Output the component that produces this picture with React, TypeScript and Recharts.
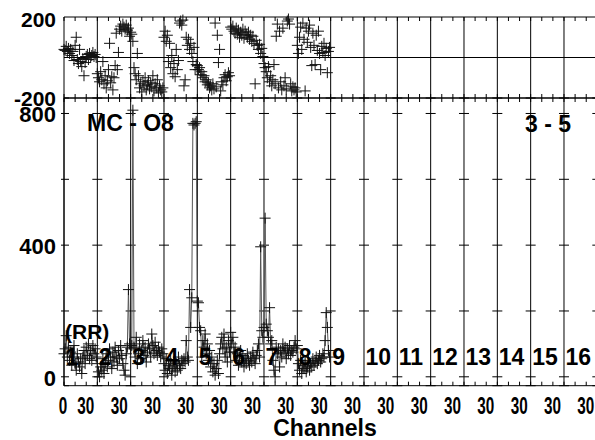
import { ComposedChart, Scatter, Line, XAxis, YAxis, ReferenceLine, CartesianGrid } from 'recharts'

// phase panel (top), one array per 30-channel segment
const topSeg1 = [40, 35, 55, 30, 45, 20, 40, 10, 30, -15, 60, 100, -10, -30, 40, -20, -45, -5, -90, -25, 5, 15, -10, 20, 0, 10, 25, 5, 15, 0]
const topSeg2 = [-80, -100, -120, -70, -110, -20, -130, -90, -150, -115, -60, 70, -125, -95, -160, -100, -40, 120, -60, 25, 140, 155, 130, 165, 150, 140, 160, 135, 145, 105]
const topSeg3 = [125, 115, 80, -50, -80, -110, 20, -90, -150, -130, -170, -120, -140, -100, -160, -135, -115, -155, -125, -145, -90, -165, -130, -150, -110, -175, -140, -160, -170, -150]
const topSeg4 = [100, 130, 80, 110, -20, 70, -50, 10, -80, -30, -95, 40, -60, -15, 170, 180, 160, 185, -140, -110, 100, 60, 90, 40, 70, 20, -20, 50, -60, -35]
const topSeg5 = [-40, -60, -50, -85, -70, -100, -90, -120, -110, -135, -125, -150, -140, -160, -130, -155, 170, -145, 110, -25, 40, -165, -120, -135, -100, -85, -115, -95, -75, -90]
const topSeg6 = [150, 140, 155, 130, 120, 145, 115, 135, 100, 125, 110, 140, 95, 130, 115, 100, 125, 90, 110, 80, 105, 70, -130, 85, 60, 40, 65, 20, 45, 5]
const topSeg7 = [-30, -50, -70, -100, -45, -120, -90, -140, -110, -35, -130, 105, 165, -150, 130, -120, -160, 145, -140, -100, -155, 180, 190, 165, -130, -165, -145, -160, -150, -170]
const topSeg8 = [60, 20, 100, 150, 40, 170, 90, -165, 145, 75, 130, 160, 50, -40, 120, 60, -35, 110, 35, 130, 20, -60, 55, 25, 70, 10, 45, -75, 30, 50]

// counts panel (bottom)
const botSeg1 = [70, 85, 125, 60, 90, 50, 75, 35, 60, 95, 40, 20, 70, 45, 30, 55, 10, 60, 80, 40, 90, 65, 100, 55, 80, 50, 95, 70, 85, 60]
const botSeg2 = [40, 15, 0, 30, 20, 55, 10, 40, 70, 30, 50, 85, 60, 25, 75, 45, 90, 60, 35, 80, 55, 95, 65, 40, 20, 5, 70, 90, 265, 100]
const botSeg3 = [85, 95, 810, 90, 60, 120, 40, 70, 100, 55, 80, 110, 65, 90, 45, 75, 100, 85, 60, 130, 95, 70, 105, 80, 65, 90, 75, 60, 85, 70]
const botSeg4 = [40, 20, 55, 10, 35, 25, 50, 5, 30, 45, 15, 40, 20, 60, 35, 25, 50, 40, 55, 45, 110, 60, 50, 265, 150, 240, 770, 765, 770, 775]
const botSeg5 = [230, 225, 150, 140, 60, 110, 90, 130, 70, 100, 50, 80, 30, 60, 15, 40, 5, 25, 50, 10, 70, 100, 120, 85, 130, 60, 90, 45, 110, 75]
const botSeg6 = [135, 100, 120, 75, 90, 50, 70, 35, 60, 80, 45, 65, 30, 55, 40, 70, 50, 35, 60, 45, 75, 55, 40, 65, 80, 100, 60, 395, 140, 120]
const botSeg7 = [150, 482, 160, 140, 120, 210, 100, 110, 50, 20, 0, 90, 70, 85, 30, 80, 60, 100, 75, 90, 55, 85, 70, 95, 65, 80, 75, 90, 110, 85]
const botSeg8 = [95, 40, 20, 50, 10, 35, 25, 45, 15, 30, 50, 20, 40, 30, 55, 35, 45, 60, 40, 50, 65, 45, 55, 70, 60, 110, 195, 150, 80, 60]

const segmentTicks = [0, 30, 60, 90, 120, 150, 180, 210, 240, 270, 300, 330, 360, 390, 420, 450, 480]
const segmentNames = ['1', '2', '3', '4', '5', '6', '7', '8', '9', '10', '11', '12', '13', '14', '15', '16']
const minorTicks = Array.from({ length: 49 }, (_, i) => i * 10)
const topYTicks = [-200, 200]
const botYTicks = [0, 200, 400, 600, 800]
const botYLabels = [0, 400, 800]

const topData = [...topSeg1, ...topSeg2, ...topSeg3, ...topSeg4, ...topSeg5, ...topSeg6, ...topSeg7, ...topSeg8].map((v, ch) => ({ ch, v }))
const botData = [...botSeg1, ...botSeg2, ...botSeg3, ...botSeg4, ...botSeg5, ...botSeg6, ...botSeg7, ...botSeg8].map((v, ch) => ({ ch, v }))

const FONT = '"Liberation Sans", Arial, sans-serif'
const W = 660
// axes are 1px thick boxes, so the margins leave that pixel out
const MARGIN_X = { left: 63, right: W - 597.33 }

const plusPath = (cx: number, cy: number, r: number) => `M${cx - r},${cy}H${cx + r}M${cx},${cy - r}V${cy + r}`

function PlusMark(props: any) {
  const { cx, cy } = props
  if (cx == null || cy == null) return null
  return <path d={plusPath(cx, cy, 5.5)} stroke="#111" strokeWidth={1} fill="none" />
}

// small inward ticks drawn from the axis line
const TickUp = (p: any) => <line x1={p.x} x2={p.x} y1={p.y} y2={p.y - 4} stroke="#000" />
const TickDown = (p: any) => <line x1={p.x} x2={p.x} y1={p.y} y2={p.y + 4} stroke="#000" />

function TopYTick(props: any) {
  const { x, y, payload } = props
  return (
    <text x={x} y={payload.value > 0 ? y + 10 : y + 7.5} textAnchor="end" fontFamily={FONT} fontWeight="bold" fontSize={21} fill="#000">
      {payload.value}
    </text>
  )
}

function BotYTick(props: any) {
  const { x, y, payload } = props
  if (!botYLabels.includes(payload.value)) return <g />
  return (
    <text x={x} y={y + 9} textAnchor="end" fontFamily={FONT} fontWeight="bold" fontSize={22} fill="#000">
      {payload.value}
    </text>
  )
}

function XLabel(props: any) {
  const { x, payload } = props
  const first = payload.value === 0
  return (
    <text x={first ? x - 1 : x - 11.5} y={414} textAnchor="middle" fontFamily={FONT} fontWeight="bold" fontSize={23}
      textLength={first ? 8.5 : 17} lengthAdjust="spacingAndGlyphs" fill="#000">
      {first ? '0' : '30'}
    </text>
  )
}

function SegName(props: any) {
  const { x, index } = props
  return (
    <text x={x + 1.5} y={365} fontFamily={FONT} fontWeight="bold" fontSize={23} fill="#000">
      {segmentNames[index]}
    </text>
  )
}

const gridDash = ['5', ...Array(16).fill('23.333 10')].join(' ')

const axisCommon = { dataKey: 'ch', type: 'number' as const, domain: [0, 480], height: 1, interval: 0 as const }

export default function App() {
  return (
    <div style={{ position: 'fixed', left: 0, top: 0, width: 595, height: 440, overflow: 'hidden', background: '#fff' }}>
      <div style={{ position: 'absolute', left: 0, top: 0 }}>
        <ComposedChart width={W} height={440} data={botData} margin={{ top: 97, bottom: 51.3, ...MARGIN_X }}>
          <CartesianGrid vertical={false} stroke="#000" strokeDasharray={gridDash} />
          <XAxis {...axisCommon} ticks={minorTicks} tickLine={false} tickSize={0} tickMargin={0} tick={TickUp} stroke="#000" />
          <XAxis {...axisCommon} xAxisId="lab" ticks={segmentTicks} axisLine={false} tickLine={false} tick={XLabel} />
          <XAxis {...axisCommon} xAxisId="seg" ticks={segmentTicks.slice(0, 16)} axisLine={false} tickLine={false} tick={SegName} />
          <XAxis {...axisCommon} xAxisId="top" orientation="top" ticks={minorTicks} tickLine={false} tickSize={0} tickMargin={0} tick={TickDown} stroke="#000" />
          <YAxis domain={[-27, 847]} ticks={botYTicks} width={1} tickSize={3} tickMargin={5} tick={BotYTick} stroke="#000" interval={0} allowDataOverflow />
          {segmentTicks.map((t) => (
            <ReferenceLine key={t} x={t} stroke="#000" strokeWidth={1} ifOverflow="visible" />
          ))}
          <Line dataKey="v" stroke="#555" strokeWidth={1} isAnimationActive={false} dot={(p: any) => <path key={`d${p.index}`} d={plusPath(p.cx, p.cy, 5.5)} stroke="#111" fill="none" />} activeDot={false} />
        </ComposedChart>
      </div>
      <div style={{ position: 'absolute', left: 0, top: 0 }}>
        <ComposedChart width={W} height={120} data={topData} margin={{ top: 16, bottom: 21, ...MARGIN_X }}>
          <XAxis {...axisCommon} ticks={minorTicks} tickLine={false} tickSize={0} tickMargin={0} tick={TickUp} stroke="#000" />
          <XAxis {...axisCommon} xAxisId="top" orientation="top" ticks={minorTicks} tickLine={false} tickSize={0} tickMargin={0} tick={TickDown} stroke="#000" />
          <YAxis domain={[-200, 200]} ticks={topYTicks} width={1} tickSize={0} tickMargin={8} tickLine={false} axisLine={false} tick={TopYTick} interval={0} />
          {segmentTicks.map((t) => (
            <ReferenceLine key={t} x={t} stroke="#000" strokeWidth={1} ifOverflow="visible" />
          ))}
          <ReferenceLine y={0} stroke="#000" strokeWidth={1} />
          <Scatter dataKey="v" shape={PlusMark} isAnimationActive={false} />
        </ComposedChart>
      </div>
      <svg width={595} height={440} style={{ position: 'absolute', left: 0, top: 0, pointerEvents: 'none' }} fontFamily={FONT} fontWeight="bold" fill="#000">
        <text x={87} y={131} fontSize={23}>MC - O8</text>
        <text x={525} y={131.5} fontSize={23}>3 - 5</text>
        <text x={65} y={339} fontSize={21}>(RR)</text>
        <text x={325} y={436} fontSize={23} textAnchor="middle">Channels</text>
      </svg>
    </div>
  )
}
